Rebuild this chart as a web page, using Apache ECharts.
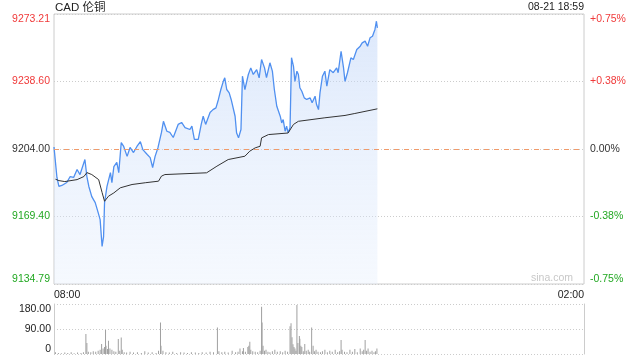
<!DOCTYPE html>
<html><head><meta charset="utf-8">
<script src="https://cdn.jsdelivr.net/npm/echarts@6/dist/echarts.min.js"></script>
<style>html,body{margin:0;padding:0;background:#fff}#c{width:640px;height:360px}</style>
</head><body><div id="c"></div>
<script>
// minutes after 08:00
const priceTimes = [0,6,10,16,26,33,40,47,53,63,67,71,77,84,90,94,98,101,103,108,115,118,122,128,132,137,142,149,155,162,169,176,181,190,196,201,206,212,219,223,230,236,243,253,260,267,277,281,286,294,300,304,309,318,324,330,335,340,345,348,352,357,361,365,369,372,376,381,384,389,396,401,406,413,418,423,429,433,437,440,445,449,454,457,461,464,467,471,474,477,481,484,488,491,495,498,501,505,510,515,522,526,532,535,539,542,547,552,556,562,569,576,579,585,590,593,598,605,610,617,624,628,634,639,644,649,654,657,659];
const prices = [9205.0,9189.4,9184.8,9185.3,9186.8,9189.9,9189.4,9193.5,9190.9,9198.6,9189.9,9184.8,9179.6,9176.5,9171.4,9167.8,9154.0,9159.1,9176.5,9184.8,9191.9,9186.8,9195.0,9197.1,9191.9,9207.3,9205.3,9200.2,9204.8,9202.2,9205.3,9207.8,9203.7,9201.2,9199.6,9194.5,9200.2,9204.8,9212.5,9218.2,9213.1,9212.5,9209.9,9216.6,9217.6,9215.0,9214.0,9215.7,9208.9,9208.9,9216.6,9220.8,9216.6,9222.7,9224.2,9225.1,9229.4,9234.5,9238.7,9240.5,9234.5,9232.8,9229.4,9229.4,9220.8,9212.3,9209.7,9214.0,9241.3,9234.5,9242.2,9245.6,9242.2,9244.7,9240.5,9249.9,9245.6,9240.6,9239.6,9248.2,9243.9,9234.5,9225.9,9226.8,9220.8,9217.4,9219.1,9213.1,9215.7,9212.3,9214.9,9250.8,9246.4,9238.7,9243.9,9242.2,9235.4,9233.6,9230.2,9229.4,9230.2,9227.7,9231.1,9226.8,9224.2,9232.8,9241.3,9243.9,9236.2,9244.7,9243.1,9245.6,9243.1,9254.1,9245.6,9238.7,9243.1,9250.7,9249.9,9255.0,9256.7,9258.4,9259.3,9256.7,9261.0,9261.8,9265.3,9269.5,9266.1];
const avgTimes = [3,10,22,47,61,67,77,91,98,103,111,122,135,159,186,213,219,226,311,332,355,389,399,410,420,423,437,477,488,498,552,593,613,659];
const avgPrices = [9188.5,9187.8,9187.3,9188.3,9189.9,9191.9,9190.9,9188.3,9181.7,9177.2,9179.8,9181.5,9184.1,9185.8,9186.7,9187.5,9190.1,9190.9,9191.8,9195.2,9198.6,9200.3,9202.9,9204.6,9205.4,9209.7,9211.4,9212.2,9216.6,9218.2,9220.0,9221.2,9222.2,9224.6];
const volTimes = [3,9,15,22,28,35,41,48,55,60,65,67,70,75,80,85,90,94,97,100,103,105,106,109,111,114,118,122,126,131,134,137,139,143,148,155,162,170,178,185,192,200,208,213,217,218,222,228,235,242,250,258,265,272,280,288,295,302,310,318,325,333,336,342,348,355,363,370,375,379,384,386,390,395,397,399,401,405,410,415,420,423,424,426,429,432,436,440,445,450,455,461,466,471,476,481,483,485,487,489,491,493,495,497,500,501,503,505,508,511,514,518,521,525,528,531,534,538,543,547,552,557,562,567,573,578,582,585,587,592,597,603,608,613,618,624,628,631,634,637,640,644,648,652,655,658];
const volumes = [6,4,3,5,4,6,3,5,4,6,72,40,8,6,10,8,12,15,36,20,25,86,30,18,48,20,15,10,8,54,12,59,15,6,5,8,5,6,4,10,5,6,4,12,113,30,12,6,5,8,4,6,5,4,6,5,4,6,5,8,6,95,10,6,8,5,12,6,8,20,10,22,8,25,30,44,15,10,8,6,12,170,113,30,12,15,8,6,10,15,8,10,6,12,8,100,111,60,35,25,20,12,176,40,65,55,30,25,10,36,12,15,8,95,30,10,15,8,6,10,15,6,12,8,15,6,10,50,15,8,6,15,8,18,6,20,10,15,50,12,20,8,12,6,10,20];
const xTickLabels = ['08:00','02:00'];
const priceTickLabels = ['9134.79','9169.40','9204.00','9238.60','9273.21'];
const pctTickLabels = ['-0.75%','-0.38%','0.00%','+0.38%','+0.75%'];
const volTickLabels = ['0','90.00','180.00'];
const prevClose = 9204.00;

const GREEN='#22a822', RED='#f03a3a', DARK='#333';
const tickColors=[GREEN,GREEN,DARK,RED,RED];
const FONT='Arial, "Liberation Sans", "Noto Sans CJK SC", sans-serif';
const chart = echarts.init(document.getElementById('c'));
chart.setOption({
  animation:false,
  textStyle:{fontFamily:FONT},
  title:[
    {text:'CAD 伦铜',left:55,top:2,padding:0,textStyle:{fontSize:11.5,fontWeight:'normal',color:'#222',fontFamily:FONT}},
    {text:'08-21 18:59',right:56,top:2,padding:0,textStyle:{fontSize:10.5,fontWeight:'normal',color:'#222',fontFamily:FONT}}
  ],
  graphic:[{type:'text',right:67,top:273,style:{text:'sina.com',fill:'#c8c8c8',font:'10.5px '+FONT}}],
  grid:[
    {left:54,right:56,top:14,height:270,show:true,borderColor:'#ccc',borderWidth:1,backgroundColor:'transparent'},
    {left:54,right:56,top:304,height:50,show:false}
  ],
  xAxis:[
    {type:'value',gridIndex:0,min:0,max:1080,interval:1080,axisLine:{show:false},axisTick:{show:false},splitLine:{show:false},
     axisLabel:{show:true,margin:6,fontSize:10.5,color:'#222',alignMinLabel:'left',alignMaxLabel:'right',formatter:(v,i)=>xTickLabels[i]}},
    {type:'value',gridIndex:1,min:0,max:1080,interval:1080,axisLine:{show:false},axisTick:{show:false},splitLine:{show:false},axisLabel:{show:false}}
  ],
  yAxis:[
    {type:'value',gridIndex:0,min:9134.79,max:9273.21,interval:34.605,axisLine:{show:false},axisTick:{show:false},
     splitLine:{show:true,lineStyle:{color:'#ccc',type:[1,2]}},
     axisLabel:{margin:4,fontSize:10.5,verticalAlignMinLabel:'bottom',verticalAlignMaxLabel:'top',formatter:(v,i)=>priceTickLabels[i],color:(v,i)=>tickColors[i]}},
    {type:'value',gridIndex:0,position:'right',min:-0.75,max:0.75,interval:0.375,axisLine:{show:false},axisTick:{show:false},splitLine:{show:false},
     axisLabel:{margin:6,fontSize:10.5,verticalAlignMinLabel:'bottom',verticalAlignMaxLabel:'top',formatter:(v,i)=>pctTickLabels[i],color:(v,i)=>tickColors[i]}},
    {type:'value',gridIndex:1,min:0,max:180,interval:90,axisLine:{show:true,lineStyle:{color:'#ccc'}},axisTick:{show:false},
     splitLine:{show:true,lineStyle:{color:'#ccc',type:[1,2]}},
     axisLabel:{margin:3,fontSize:10.5,color:'#222',verticalAlignMinLabel:'bottom',verticalAlignMaxLabel:'top',formatter:(v,i)=>volTickLabels[i]}},
    {type:'value',gridIndex:1,position:'right',min:0,max:180,interval:90,axisLine:{show:true,lineStyle:{color:'#ccc'}},axisTick:{show:false},splitLine:{show:false},axisLabel:{show:false}}
  ],
  series:[
    {type:'line',xAxisIndex:0,yAxisIndex:0,data:priceTimes.map((t,i)=>[t,prices[i]]),symbol:'none',
     lineStyle:{color:'#5090f0',width:1.3},
     areaStyle:{origin:'start',color:new echarts.graphic.LinearGradient(0,0,0,1,[{offset:0,color:'rgba(190,212,248,0.75)'},{offset:1,color:'rgba(225,236,252,0.45)'}])},
     markLine:{silent:true,symbol:'none',label:{show:false},lineStyle:{color:'#f09a6a',type:[5,5],width:1},data:[{yAxis:prevClose}]},
     z:3},
    {type:'line',xAxisIndex:0,yAxisIndex:0,data:avgTimes.map((t,i)=>[t,avgPrices[i]]),symbol:'none',lineStyle:{color:'#333',width:1},z:4},
    {type:'bar',xAxisIndex:1,yAxisIndex:2,data:volTimes.map((t,i)=>[t,volumes[i]]),barWidth:1,itemStyle:{color:'#a0a0a0'}}
  ]
});
</script></body></html>
